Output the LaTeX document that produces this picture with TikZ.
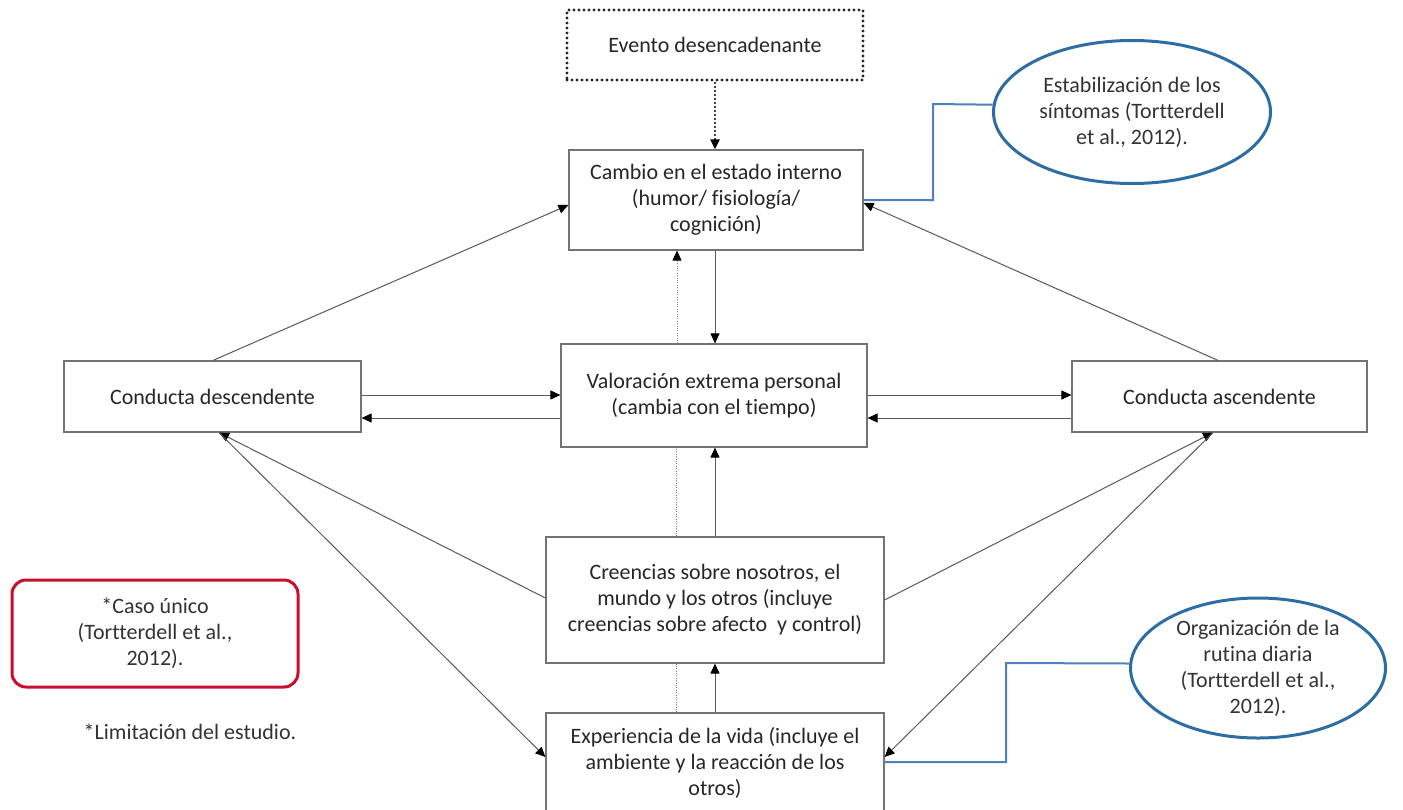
\documentclass[tikz,border=0pt]{standalone}
\usepackage{fontspec}
\setmainfont[Ligatures=NoCommon]{Carlito}
\usetikzlibrary{arrows.meta,shapes.geometric}
\definecolor{ellblue}{HTML}{2E6DA4}
\definecolor{linkblue}{HTML}{4F81BD}
\definecolor{notered}{HTML}{C8102E}
\begin{document}
\begin{tikzpicture}[x=0.5pt,y=-0.5pt,
  font=\fontsize{11}{13}\selectfont,
  box/.style={draw=black!55, line width=0.6pt, align=center, inner sep=0pt, fill=white, text=black!85},
  evbox/.style={draw=black!85, line width=1.7pt, line cap=round, dash pattern=on 0pt off 2.5pt, align=center, inner sep=0pt, text=black!85},
  bubble/.style={ellipse, draw=ellblue, line width=1.5pt, align=center, inner sep=0pt, text=black!80},
  notebox/.style={draw=notered, line width=1.5pt, rounded corners=7pt, align=center, inner sep=0pt, text=black!80},
  arr/.style={draw=black!65, line width=0.5pt, -{Triangle[length=5pt,width=4.5pt,color=black]}},
  evarr/.style={draw=black!75, line width=1.1pt, dash pattern=on 1pt off 1pt, -{Triangle[length=5pt,width=4.5pt,color=black]}},
  faint/.style={draw=black!50, line width=0.5pt, dash pattern=on 0.5pt off 0.7pt},
  link/.style={draw=linkblue, line width=1pt}
]
\fill[white] (0,0) rectangle (1403,809);
\useasboundingbox (0,0) rectangle (1403,809);

% boxes
\node[evbox, minimum width=148pt, minimum height=35pt] (ev) at (715,45) {Evento desencadenante};
\node[box, minimum width=147pt, minimum height=50pt] (cam) at (716,200)
  {Cambio en el estado interno\\(humor/ fisiología/\\cognición)};
\node[box, minimum width=153pt, minimum height=51.5pt] (val) at (714,395.5)
  {Valoración extrema personal\\(cambia con el tiempo)};
\node[box, minimum width=148.5pt, minimum height=35.5pt] (cd) at (212.5,396.5) {Conducta descendente};
\node[box, minimum width=147.5pt, minimum height=35.5pt] (ca) at (1219.5,396.5) {Conducta ascendente};
\node[box, minimum width=169pt, minimum height=63pt] (cre) at (715,600)
  {Creencias sobre nosotros, el\\mundo y los otros (incluye\\creencias sobre afecto\ \ y control)};
\node[box, minimum width=169pt, minimum height=49.5pt] (exp) at (715,762.5)
  {Experiencia de la vida (incluye el\\ambiente y la reacción de los\\otros)};

% side notes
\node[bubble, minimum width=138.5pt, minimum height=71.5pt] (el1) at (1132,112)
  {Estabilización de los\\síntomas (Tortterdell\\et al., 2012).};
\node[bubble, minimum width=127.5pt, minimum height=70pt] (el2) at (1258,668)
  {Organización de la\\rutina diaria\\(Tortterdell et al.,\\2012).};
\node[notebox, minimum width=143pt, minimum height=53.5pt] (red) at (155,633.5)
  {*Caso único\\(Tortterdell et al.,\\2012).};
\node[text=black!80] (lim) at (190,732) {*Limitación del estudio.};

% vertical connectors
\draw[evarr] (ev.south -| 715,0) -- (cam.north -| 715,0);
\draw[faint, -{Triangle[length=5pt,width=4.5pt,color=black]}] (val.north -| 677,0) -- (cam.south -| 677,0);
\draw[arr] (cam.south -| 715,0) -- (val.north -| 715,0);
\draw[faint] (cre.north -| 676,0) -- (val.south -| 676,0);
\draw[arr] (cre.north -| 715,0) -- (val.south -| 715,0);
\draw[faint] (exp.north -| 676,0) -- (cre.south -| 676,0);
\draw[arr] (exp.north -| 715,0) -- (cre.south -| 715,0);

% horizontal connectors
\draw[arr] (cd.east |- 0,395) -- (val.west |- 0,395);
\draw[arr] (val.west |- 0,418) -- (cd.east |- 0,418);
\draw[arr] (val.east |- 0,395) -- (ca.west |- 0,395);
\draw[arr] (ca.west |- 0,418) -- (val.east |- 0,418);

% diagonal connectors
\draw[arr] (cd.north -| 213,0) -- (cam.west |- 0,205);
\draw[arr] (ca.north -| 1218,0) -- (cam.east |- 0,203);
\draw[arr] (cre.west |- 0,598) -- (cd.south -| 219,0);
\draw[arr] (cd.south -| 219,0) -- (exp.west |- 0,757);
\draw[arr] (cre.east |- 0,600) -- (ca.south -| 1213,0);
\draw[arr] (ca.south -| 1213,0) -- (exp.east |- 0,757);

% links to the notes
\draw[link] (el1.177) -- (933,104) -- (933,200) -- (cam.east |- 0,200);
\draw[link] (el2.178) -- (1006,663) -- (1006,762) -- (exp.east |- 0,762);
\end{tikzpicture}
\end{document}
